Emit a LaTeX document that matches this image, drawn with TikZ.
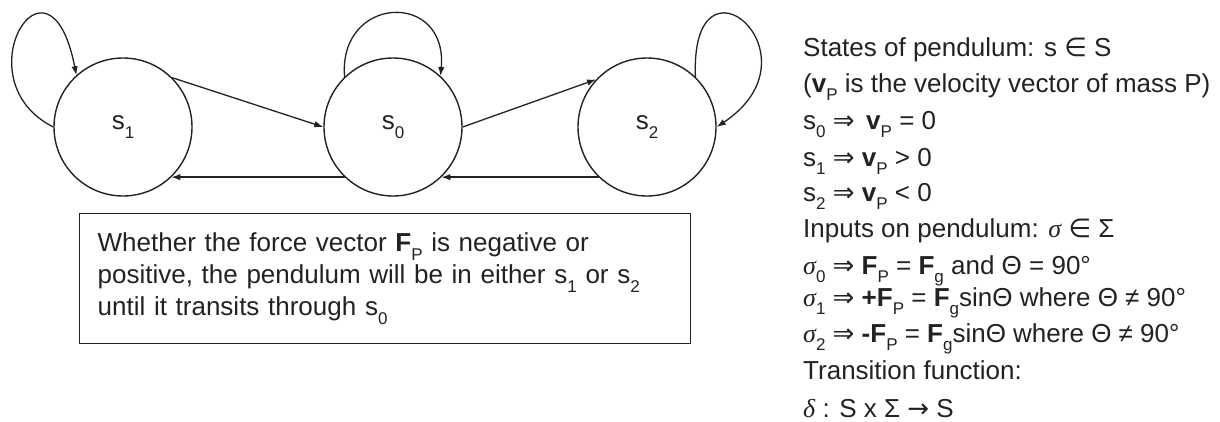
\documentclass[tikz,border=0pt]{standalone}
\usepackage{fontspec}
\setmainfont{Liberation Sans}
\newfontfamily\dvs{DejaVu Sans}
\newfontfamily\tnr{Liberation Serif}
\usetikzlibrary{arrows.meta}
\newcommand\subs[1]{\raisebox{-0.32em}{\fontsize{17}{17}\selectfont #1}}
\newcommand\slabel[1]{\raisebox{-5pt}{#1}\hspace{12pt}}
\newcommand\gsig{{\tnr\itshape σ}}
\newcommand\gdel{{\tnr\itshape δ}}
\newcommand\imp{{\dvs ⇒}}
\newcommand\elem{{\dvs ∈}}
\definecolor{ink}{HTML}{222222}
\tikzset{
  state/.style={draw=ink, line width=1.4pt, circle, inner sep=0pt, minimum size=138pt, font=\fontsize{26}{30}\selectfont, text=ink},
  conn/.style={draw=ink, line width=1.3pt, -{Latex[length=9pt,width=6.5pt]}},
  rline/.style={anchor=base west, inner sep=0pt, font=\fontsize{26}{30}\selectfont, text=ink},
  note/.style={draw=ink, line width=1.4pt, rectangle, anchor=north west, minimum width=611pt, minimum height=130pt, inner xsep=18pt, text width=575pt, align=left, font=\fontsize{26}{32}\selectfont, text=ink}
}
\begin{document}
\begin{tikzpicture}[x=1pt,y=-1pt]
\useasboundingbox (0,0) rectangle (1220,421);
% states
\node[state] (s1) at (123,127) {\slabel{s\subs{1}}};
\node[state] (s0) at (393,127) {\slabel{s\subs{0}}};
\node[state] (s2) at (647,127) {\slabel{s\subs{2}}};
% transitions
\draw[conn] (s1.45) -- (s0.180);
\draw[conn] (s0.0) -- (s2.137);
\draw[conn] (s0.226) -- (s1.-46);
\draw[conn] (s2.226) -- (s0.-46);
% self loops
\draw[conn] (s1.180) .. controls (-40,80) and (49,-65) .. (s1.132);
\draw[conn] (s0.134) .. controls (338,-5) and (448,-10) .. (s0.47);
\draw[conn] (s2.46) .. controls (690,-60) and (825,55) .. (s2.0);
% note box
\node[note] (box) at (79,213) {Whether the force vector \textbf{F}\subs{P} is negative or\\positive, the pendulum will be in either s\subs{1} or s\subs{2}\\until it transits through s\subs{0}};
% right text
\node[rline] (r1) at (803,56) {States of pendulum: s \elem{} S};
\node[rline] (r2) at (803,92) {(\textbf{v}\subs{P} is the velocity vector of mass P)};
\node[rline] (r3) at (803,129) {s\subs{0} \imp{}\, \textbf{v}\subs{P} = 0};
\node[rline] (r4) at (803,166) {s\subs{1} \imp{} \textbf{v}\subs{P} > 0};
\node[rline] (r5) at (803,201) {s\subs{2} \imp{} \textbf{v}\subs{P} < 0};
\node[rline] (r6) at (803,237) {Inputs on pendulum: \gsig{} \elem{} Σ};
\node[rline] (r7) at (803,274) {\gsig\subs{0} \imp{} \textbf{F}\subs{P} = \textbf{F}\subs{g} and Θ = 90°};
\node[rline] (r8) at (803,306) {\gsig\subs{1} \imp{} \textbf{+F}\subs{P} = \textbf{F}\subs{g}sinΘ where Θ ≠ 90°};
\node[rline] (r9) at (803,342) {\gsig\subs{2} \imp{} \textbf{-F}\subs{P} = \textbf{F}\subs{g}sinΘ where Θ ≠ 90°};
\node[rline] (r10) at (803,379) {Transition function:};
\node[rline] (r11) at (803,417) {\gdel{} : S x Σ {\dvs →} S};
\end{tikzpicture}
\end{document}
